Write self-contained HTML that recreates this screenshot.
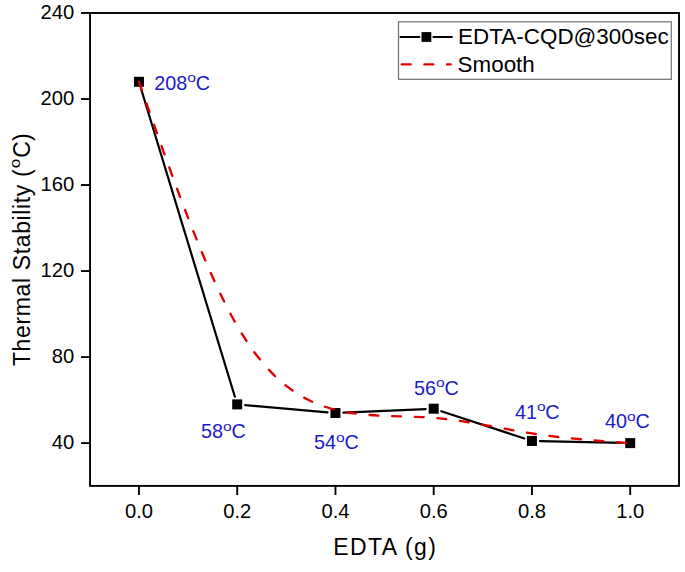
<!DOCTYPE html>
<html><head><meta charset="utf-8"><style>
html,body{margin:0;padding:0;background:#fff;}
svg{display:block;font-family:"Liberation Sans",sans-serif;}
</style></head><body>
<svg width="685" height="572" viewBox="0 0 685 572">
<rect width="685" height="572" fill="#fff"/>
<g stroke="#000" stroke-width="1.9" fill="none">
<rect x="90.05" y="13.0" width="588.95" height="472.90"/>
<line x1="81" y1="443.10" x2="90.05" y2="443.10"/><line x1="81" y1="357.08" x2="90.05" y2="357.08"/><line x1="81" y1="271.05" x2="90.05" y2="271.05"/><line x1="81" y1="185.03" x2="90.05" y2="185.03"/><line x1="81" y1="99.00" x2="90.05" y2="99.00"/><line x1="81" y1="12.98" x2="90.05" y2="12.98"/><line x1="138.95" y1="485.9" x2="138.95" y2="495"/><line x1="237.20" y1="485.9" x2="237.20" y2="495"/><line x1="335.45" y1="485.9" x2="335.45" y2="495"/><line x1="433.70" y1="485.9" x2="433.70" y2="495"/><line x1="531.95" y1="485.9" x2="531.95" y2="495"/><line x1="630.20" y1="485.9" x2="630.20" y2="495"/>
</g>
<g font-size="20.2" fill="#000"><text x="74.2" y="448.70" text-anchor="end">40</text><text x="74.2" y="362.68" text-anchor="end">80</text><text x="74.2" y="276.65" text-anchor="end">120</text><text x="74.2" y="190.63" text-anchor="end">160</text><text x="74.2" y="104.60" text-anchor="end">200</text><text x="74.2" y="18.58" text-anchor="end">240</text><text x="138.95" y="517.5" text-anchor="middle">0.0</text><text x="237.20" y="517.5" text-anchor="middle">0.2</text><text x="335.45" y="517.5" text-anchor="middle">0.4</text><text x="433.70" y="517.5" text-anchor="middle">0.6</text><text x="531.95" y="517.5" text-anchor="middle">0.8</text><text x="630.20" y="517.5" text-anchor="middle">1.0</text></g>
<text x="333.3" y="555" font-size="23" textLength="102.5" lengthAdjust="spacing">EDTA (g)</text>
<text transform="translate(30.3,366.1) rotate(-90)" font-size="23" textLength="196.8" lengthAdjust="spacing">Thermal Stability (</text>
<text transform="translate(20.35,168.3) rotate(-90) scale(1.15,1)" font-size="15">o</text>
<text transform="translate(30.3,157.7) rotate(-90)" font-size="23">C)</text>
<g stroke="#000" stroke-width="2.2" stroke-linecap="round"><line x1="141.28" y1="89.45" x2="234.87" y2="396.74"/><line x1="245.17" y1="405.09" x2="327.48" y2="412.29"/><line x1="343.44" y1="412.64" x2="425.71" y2="409.04"/><line x1="441.30" y1="411.19" x2="524.35" y2="438.45"/><line x1="539.95" y1="441.12" x2="622.20" y2="442.92"/></g>
<g fill="#000"><rect x="133.95" y="76.80" width="10.0" height="10.0"/><rect x="232.20" y="399.39" width="10.0" height="10.0"/><rect x="330.45" y="407.99" width="10.0" height="10.0"/><rect x="428.70" y="403.69" width="10.0" height="10.0"/><rect x="526.95" y="435.95" width="10.0" height="10.0"/><rect x="625.20" y="438.10" width="10.0" height="10.0"/></g>
<path d="M138.95,81.80 C171.70,175.60 204.45,269.41 237.20,325.89 C269.95,382.38 302.70,401.55 335.45,409.77 C368.20,417.98 400.95,415.25 433.70,417.83 C466.45,420.42 499.20,428.32 531.95,433.42 C564.70,438.52 597.45,440.81 630.20,443.10" fill="none" stroke="#e00000" stroke-width="2.35" stroke-linecap="round" stroke-dasharray="8.9 13.78"/>
<g font-size="19.8" fill="#1a1acc"><text x="154.3" y="89.6">208</text><text transform="translate(187.33,82.00) scale(1.25,1)" font-size="12.5">o</text><text x="195.78" y="89.6">C</text><text x="201.0" y="438.1">58</text><text transform="translate(223.02,430.50) scale(1.25,1)" font-size="12.5">o</text><text x="231.47" y="438.1">C</text><text x="314.0" y="449.4">54</text><text transform="translate(336.02,441.80) scale(1.25,1)" font-size="12.5">o</text><text x="344.47" y="449.4">C</text><text x="414.1" y="395.0">56</text><text transform="translate(436.12,387.40) scale(1.25,1)" font-size="12.5">o</text><text x="444.57" y="395.0">C</text><text x="514.9" y="419.0">41</text><text transform="translate(536.92,411.40) scale(1.25,1)" font-size="12.5">o</text><text x="545.37" y="419.0">C</text><text x="605.1" y="428.4">40</text><text transform="translate(627.12,420.80) scale(1.25,1)" font-size="12.5">o</text><text x="635.57" y="428.4">C</text></g>
<rect x="398.5" y="21.8" width="272.8" height="57.5" fill="#fff" stroke="#707070" stroke-width="1.2"/>
<line x1="400.5" y1="37" x2="419.4" y2="37" stroke="#000" stroke-width="2" stroke-linecap="round"/>
<line x1="433.4" y1="37" x2="451.9" y2="37" stroke="#000" stroke-width="2" stroke-linecap="round"/>
<rect x="421.5" y="32.1" width="9.8" height="9.8" fill="#000"/>
<line x1="401.75" y1="64.4" x2="450.65" y2="64.4" stroke="#e00000" stroke-width="2.35" stroke-linecap="round" stroke-dasharray="8.9 13.78"/>
<text x="458.1" y="44.2" font-size="22.4" textLength="210.6" lengthAdjust="spacing">EDTA-CQD@300sec</text>
<text x="457.6" y="71.6" font-size="22.4">Smooth</text>
</svg>
</body></html>
